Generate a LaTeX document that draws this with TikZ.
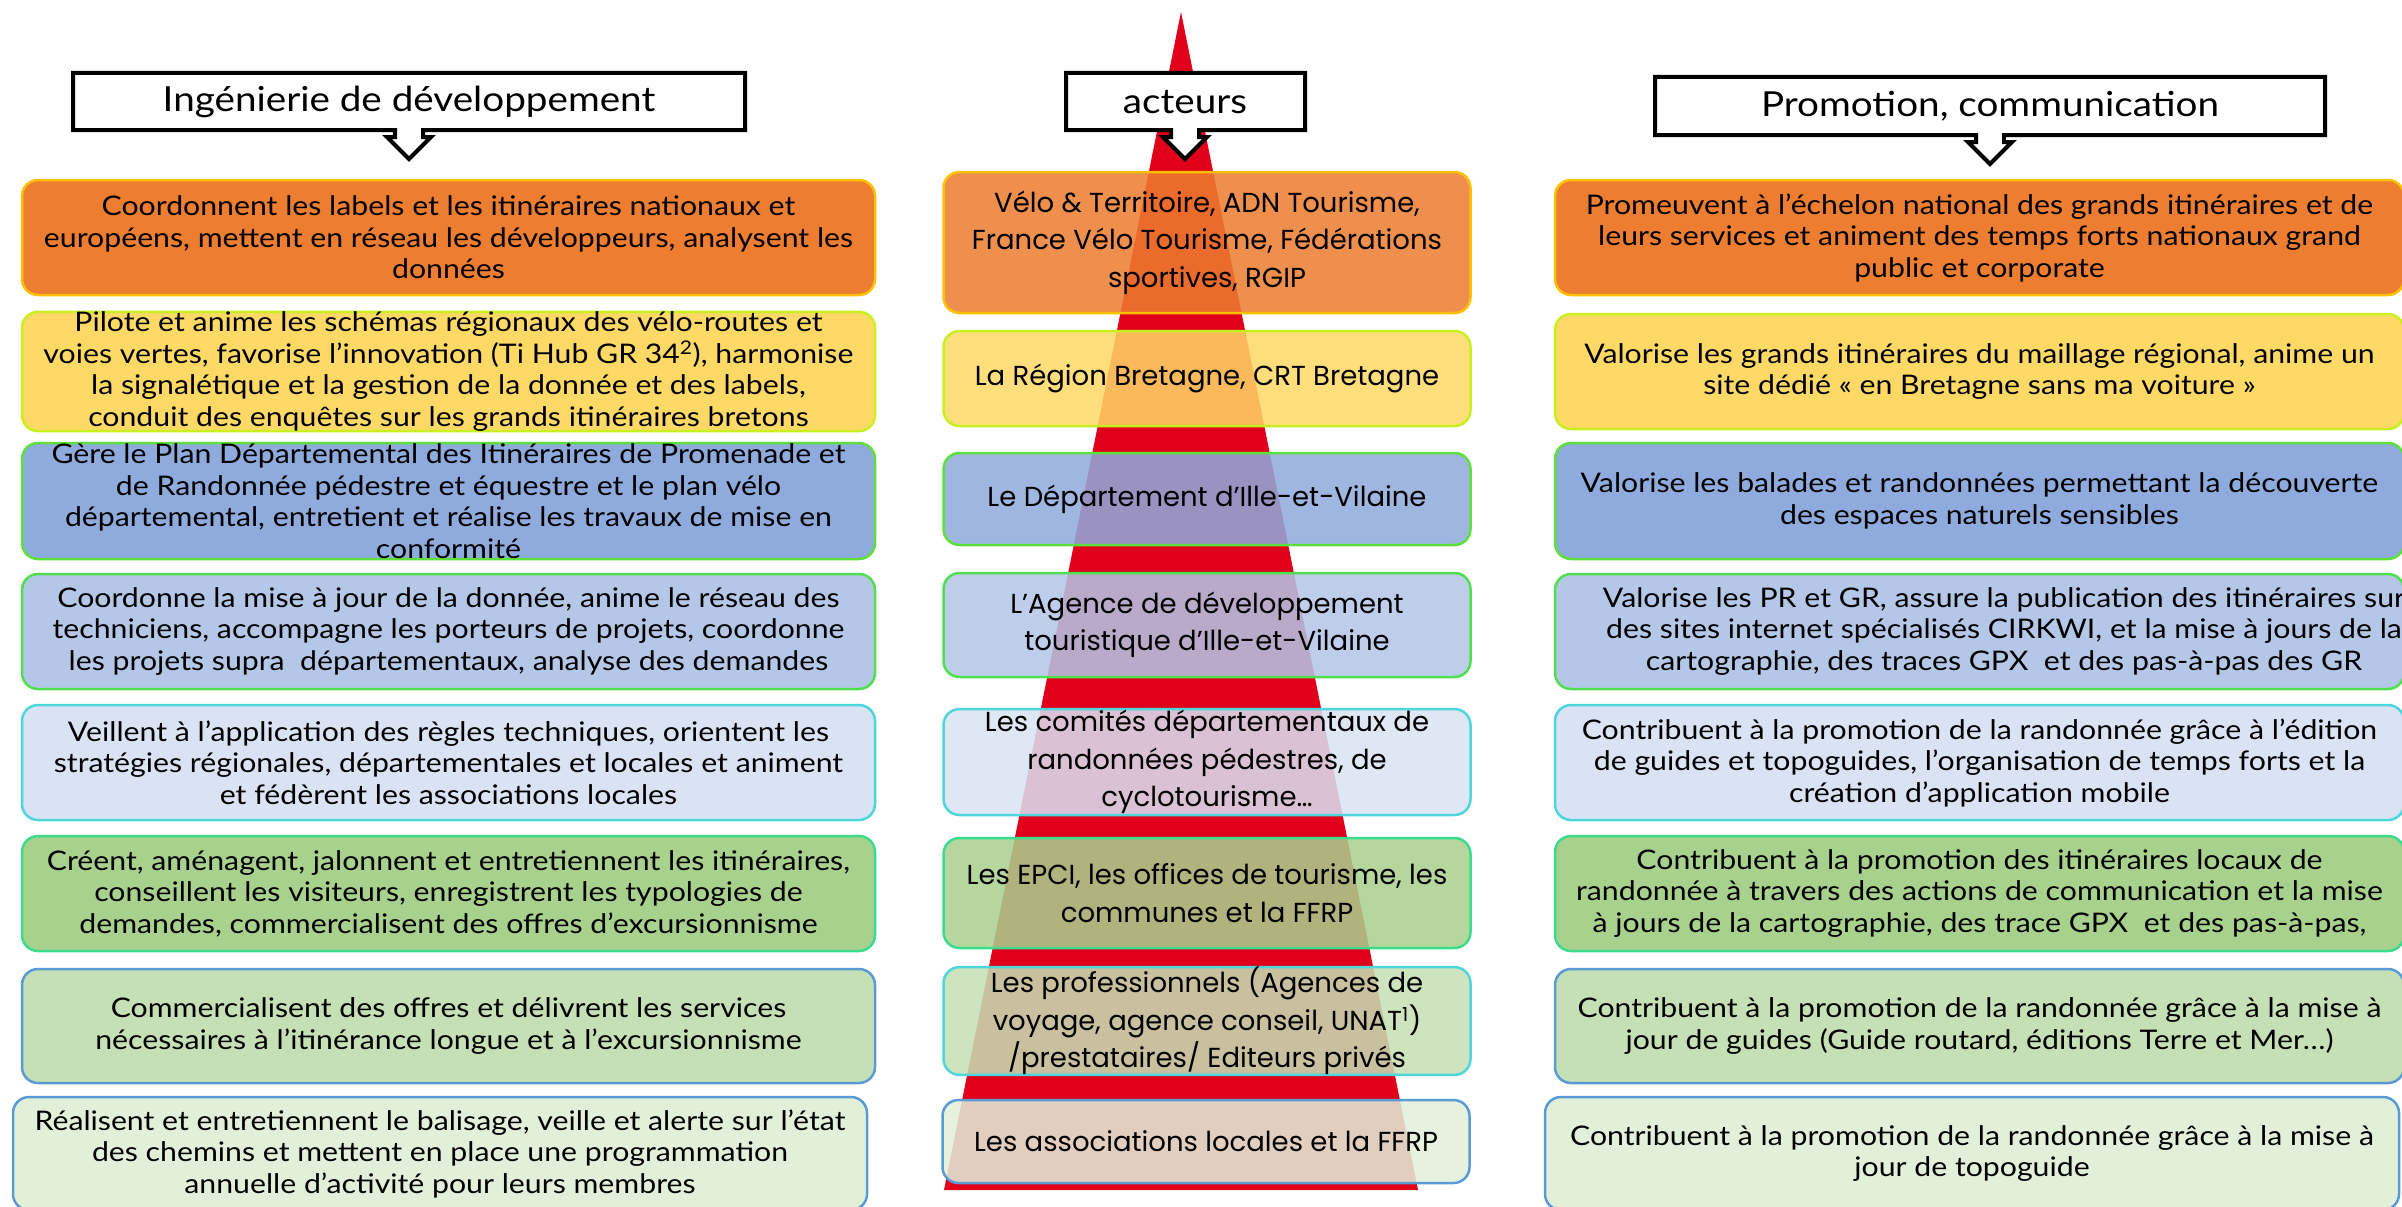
\documentclass[tikz,border=0pt]{standalone}
\usepackage{fontspec}
\setmainfont{Lato}[FakeStretch=1.12]
\newfontfamily\midfamily{Poppins}
\definecolor{cOr}{HTML}{ED7D31}\definecolor{bOr}{HTML}{FFC000}
\definecolor{cYe}{HTML}{FFD966}\definecolor{bYe}{HTML}{C8F01E}
\definecolor{cBl}{HTML}{8FAADC}\definecolor{bBl}{HTML}{5EE03C}
\definecolor{cLb}{HTML}{B4C7E7}\definecolor{bLb}{HTML}{4FE04F}
\definecolor{cVb}{HTML}{DAE3F3}\definecolor{bVb}{HTML}{4DD6DC}
\definecolor{cGr}{HTML}{A9D18E}\definecolor{bGr}{HTML}{3CDC8C}
\definecolor{cLg}{HTML}{C5E0B4}\definecolor{bLg}{HTML}{5B9BD5}
\definecolor{cVg}{HTML}{E2F0D9}\definecolor{bVg}{HTML}{5B9BD5}
\definecolor{pyr}{HTML}{E0001B}
\newcommand\sidefnt{\fontsize{27}{31.5}\selectfont}
\newcommand\midfnt{\midfamily\fontsize{27.5}{37.5}\selectfont}
\newcommand\hdrfnt{\fontsize{34.5}{40}\selectfont}
\newcommand\calloutshape[5]{% L T R B cx
  \draw[hdrline] (#1,#2) -- (#3,#2) -- (#3,#4) -- ({#5+14},#4) -- ({#5+14},{#4+7})
    -- ({#5+22},{#4+7}) -- (#5,{#4+29}) -- ({#5-22},{#4+7}) -- ({#5-14},{#4+7})
    -- ({#5-14},#4) -- (#1,#4) -- cycle;}
\begin{document}
\begin{tikzpicture}[x=1pt,y=-1pt,
  colbox/.style 2 args={draw=#2, fill=#1, line width=2.5pt, rounded corners=16pt,
    inner sep=0pt, align=center, text=black},
  sidebox/.style={font=\sidefnt, minimum width=853pt},
  rightbox/.style={font=\sidefnt, minimum width=849pt},
  midbox/.style={font=\midfnt, minimum width=527pt, fill opacity=0.86, text opacity=1},
  hdrline/.style={draw=black, fill=white, line width=4pt, line join=miter},
  hdrtext/.style={font=\hdrfnt, inner sep=0pt}]
\useasboundingbox (0,0) rectangle (2402,1207);
\fill[white] (0,0) rectangle (2402,1207);
% pyramid
\fill[pyr] (1181,12) -- (1418,1190) -- (944,1190) -- cycle;
% headers
\calloutshape{73}{73}{745}{130}{409}
\node[hdrtext] (h1) at (409,102) {Ingénierie de développement};
\calloutshape{1066}{73}{1305}{130}{1185}
\node[hdrtext] (h2) at (1185,102) {acteurs};
\calloutshape{1655}{77}{2325}{135}{1990}
\node[hdrtext] (h3) at (1990,106) {Promotion, communication};
% left column
\node[colbox={cOr}{bOr}, sidebox, minimum height=115pt] (l1) at (448.5,237.5)
  {Coordonnent les labels et les itinéraires nationaux et\\européens, mettent en réseau les développeurs, analysent les\\données};
\node[colbox={cYe}{bYe}, sidebox, minimum height=115pt] (l2) at (448.5,371.5)
  {Pilote et anime les schémas régionaux des vélo-routes et\\voies vertes, favorise l’innovation (Ti Hub GR 34\textsuperscript{2}), harmonise\\la signalétique et la gestion de la donnée et des labels,\\conduit des enquêtes sur les grands itinéraires bretons};
\node[colbox={cBl}{bBl}, sidebox, minimum height=116pt] (l3) at (448.5,501)
  {Gère le Plan Départemental des Itinéraires de Promenade et\\de Randonnée pédestre et équestre et le plan vélo\\départemental, entretient et réalise les travaux de mise en\\conformité};
\node[colbox={cLb}{bLb}, sidebox, minimum height=115pt] (l4) at (448.5,631.5)
  {Coordonne la mise à jour de la donnée, anime le réseau des\\techniciens, accompagne les porteurs de projets, coordonne\\les projets supra\ \ départementaux, analyse des demandes};
\node[colbox={cVb}{bVb}, sidebox, minimum height=115pt] (l5) at (448.5,762.5)
  {Veillent à l’application des règles techniques, orientent les\\stratégies régionales, départementales et locales et animent\\et fédèrent les associations locales};
\node[colbox={cGr}{bGr}, sidebox, minimum height=115pt] (l6) at (448.5,893.5)
  {Créent, aménagent, jalonnent et entretiennent les itinéraires,\\conseillent les visiteurs, enregistrent les typologies de\\demandes, commercialisent des offres d’excursionnisme};
\node[colbox={cLg}{bLg}, sidebox, minimum height=114pt] (l7) at (448.5,1026)
  {Commercialisent des offres et délivrent les services\\nécessaires à l’itinérance longue et à l’excursionnisme};
\node[colbox={cVg}{bVg}, sidebox, minimum width=854pt, minimum height=113pt] (l8) at (440,1153.5)
  {Réalisent et entretiennent le balisage, veille et alerte sur l’état\\des chemins et mettent en place une programmation\\annuelle d’activité pour leurs membres};
% middle column
\node[colbox={cOr}{bOr}, midbox, minimum height=141pt] (m1) at (1207,242.5)
  {Vélo \& Territoire, ADN Tourisme,\\France Vélo Tourisme, Fédérations\\sportives, RGIP};
\node[colbox={cYe}{bYe}, midbox, minimum height=95pt] (m2) at (1207,378.5)
  {La Région Bretagne, CRT Bretagne};
\node[colbox={cBl}{bBl}, midbox, minimum height=92pt] (m3) at (1207,499)
  {Le Département d’Ille-et-Vilaine};
\node[colbox={cLb}{bLb}, midbox, minimum height=104pt] (m4) at (1207,625)
  {L’Agence de développement\\touristique d’Ille-et-Vilaine};
\node[colbox={cVb}{bVb}, midbox, minimum height=106pt] (m5) at (1207,762)
  {Les comités départementaux de\\randonnées pédestres, de\\cyclotourisme…};
\node[colbox={cGr}{bGr}, midbox, minimum height=110pt] (m6) at (1207,893)
  {Les EPCI, les offices de tourisme, les\\communes et la FFRP};
\node[colbox={cLg}{bVb}, midbox, minimum height=96pt] (m7) at (1207,1021)
  {Les professionnels (Agences de\\voyage, agence conseil, UNAT\textsuperscript{1})\\/prestataires/ Editeurs privés};
\node[colbox={cVg}{bVg}, midbox, minimum height=83pt] (m8) at (1206,1141.5)
  {Les associations locales et la FFRP};
% right column
\node[colbox={cOr}{bOr}, rightbox, minimum height=115pt] (r1) at (1979.5,237.5)
  {Promeuvent à l’échelon national des grands itinéraires et de\\leurs services et animent des temps forts nationaux grand\\public et corporate};
\node[colbox={cYe}{bYe}, rightbox, minimum height=115pt] (r2) at (1979.5,371.5)
  {Valorise les grands itinéraires du maillage régional, anime un\\site dédié « en Bretagne sans ma voiture »};
\node[colbox={cBl}{bBl}, rightbox, minimum height=116pt] (r3) at (1979.5,501)
  {Valorise les balades et randonnées permettant la découverte\\des espaces naturels sensibles};
\node[colbox={cLb}{bLb}, rightbox, minimum height=115pt] (r4) at (1979.5,631.5) {};
\node[font=\sidefnt, align=center, inner sep=0pt] (r4t) at (2004,631.5)
  {Valorise les PR et GR, assure la publication des itinéraires sur\\des sites internet spécialisés CIRKWI, et la mise à jours de la\\cartographie, des traces GPX\ \ et des pas-à-pas des GR};
\node[colbox={cVb}{bVb}, rightbox, minimum height=115pt] (r5) at (1979.5,762.5)
  {Contribuent à la promotion de la randonnée grâce à l’édition\\de guides et topoguides, l’organisation de temps forts et la\\création d’application mobile};
\node[colbox={cGr}{bGr}, rightbox, minimum height=115pt] (r6) at (1979.5,893.5)
  {Contribuent à la promotion des itinéraires locaux de\\randonnée à travers des actions de communication et la mise\\à jours de la cartographie, des trace GPX\ \ et des pas-à-pas,};
\node[colbox={cLg}{bLg}, rightbox, minimum height=114pt] (r7) at (1979.5,1026)
  {Contribuent à la promotion de la randonnée grâce à la mise à\\jour de guides (Guide routard, éditions Terre et Mer…)};
\node[colbox={cVg}{bVg}, rightbox, minimum width=854pt, minimum height=113pt] (r8) at (1972,1153.5)
  {Contribuent à la promotion de la randonnée grâce à la mise à\\jour de topoguide};
\end{tikzpicture}
\end{document}
